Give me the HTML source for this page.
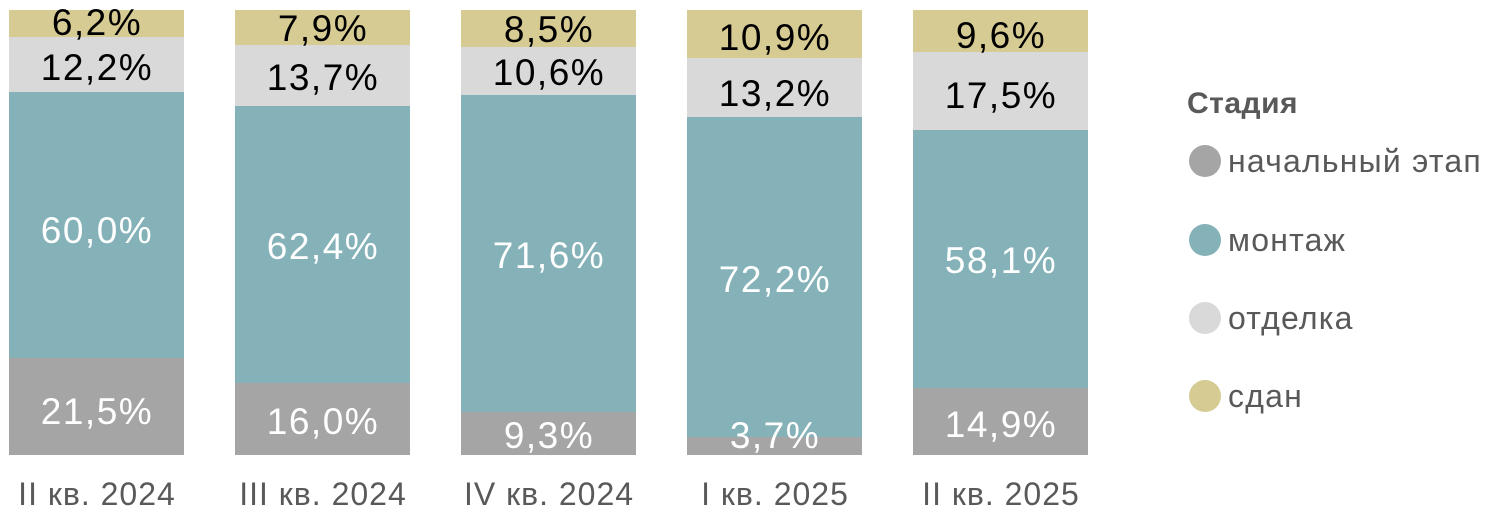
<!DOCTYPE html>
<html><head><meta charset="utf-8"><style>
html,body{margin:0;padding:0;background:#fff;}
text{font-family:"Liberation Sans","DejaVu Sans",sans-serif;}
</style></head><body>
<svg width="1493" height="513" xmlns="http://www.w3.org/2000/svg">
<g font-size="37" text-anchor="middle" letter-spacing="1.5">
<rect x="9" y="10" width="175" height="27" fill="#d6cb93"/>
<rect x="9" y="37" width="175" height="55" fill="#d9d9d9"/>
<rect x="9" y="92" width="175" height="266" fill="#84b2b8"/>
<rect x="9" y="358" width="175" height="97" fill="#a5a5a5"/>
<text x="97" y="35" fill="#000">6,2%</text>
<text x="97" y="80" fill="#000">12,2%</text>
<text x="97" y="243" fill="#fff">60,0%</text>
<text x="97" y="424" fill="#fff">21,5%</text>
<rect x="235" y="10" width="175" height="35" fill="#d6cb93"/>
<rect x="235" y="45" width="175" height="61" fill="#d9d9d9"/>
<rect x="235" y="106" width="175" height="277" fill="#84b2b8"/>
<rect x="235" y="383" width="175" height="72" fill="#a5a5a5"/>
<text x="323" y="41" fill="#000">7,9%</text>
<text x="323" y="90" fill="#000">13,7%</text>
<text x="323" y="259" fill="#fff">62,4%</text>
<text x="323" y="434" fill="#fff">16,0%</text>
<rect x="461" y="10" width="175" height="37" fill="#d6cb93"/>
<rect x="461" y="47" width="175" height="48" fill="#d9d9d9"/>
<rect x="461" y="95" width="175" height="317" fill="#84b2b8"/>
<rect x="461" y="412" width="175" height="43" fill="#a5a5a5"/>
<text x="549" y="42" fill="#000">8,5%</text>
<text x="549" y="85" fill="#000">10,6%</text>
<text x="549" y="268" fill="#fff">71,6%</text>
<text x="549" y="448" fill="#fff">9,3%</text>
<rect x="687" y="10" width="175" height="48" fill="#d6cb93"/>
<rect x="687" y="58" width="175" height="59" fill="#d9d9d9"/>
<rect x="687" y="117" width="175" height="320" fill="#84b2b8"/>
<rect x="687" y="437" width="175" height="18" fill="#a5a5a5"/>
<text x="775" y="50" fill="#000">10,9%</text>
<text x="775" y="106" fill="#000">13,2%</text>
<text x="775" y="292" fill="#fff">72,2%</text>
<text x="775" y="448" fill="#fff">3,7%</text>
<rect x="913" y="10" width="175" height="42" fill="#d6cb93"/>
<rect x="913" y="52" width="175" height="78" fill="#d9d9d9"/>
<rect x="913" y="130" width="175" height="258" fill="#84b2b8"/>
<rect x="913" y="388" width="175" height="67" fill="#a5a5a5"/>
<text x="1001" y="48" fill="#000">9,6%</text>
<text x="1001" y="108" fill="#000">17,5%</text>
<text x="1001" y="273" fill="#fff">58,1%</text>
<text x="1001" y="437" fill="#fff">14,9%</text>
</g>
<g font-size="32" fill="#595959" text-anchor="middle" letter-spacing="1">
<text x="97" y="505">II кв. 2024</text>
<text x="323" y="505">III кв. 2024</text>
<text x="549" y="505">IV кв. 2024</text>
<text x="775" y="505">I кв. 2025</text>
<text x="1001" y="505">II кв. 2025</text>
</g>
<g font-size="32" fill="#595959" letter-spacing="1.2">
<text x="1187" y="113" font-weight="bold" font-size="30" letter-spacing="0.5">Стадия</text>
<circle cx="1205" cy="161" r="16" fill="#a5a5a5"/>
<text x="1228" y="172">начальный этап</text>
<circle cx="1205" cy="240" r="16" fill="#84b2b8"/>
<text x="1228" y="251">монтаж</text>
<circle cx="1205" cy="318" r="16" fill="#d9d9d9"/>
<text x="1228" y="329">отделка</text>
<circle cx="1205" cy="396" r="16" fill="#d6cb93"/>
<text x="1228" y="407">сдан</text>
</g>
</svg>
</body></html>
